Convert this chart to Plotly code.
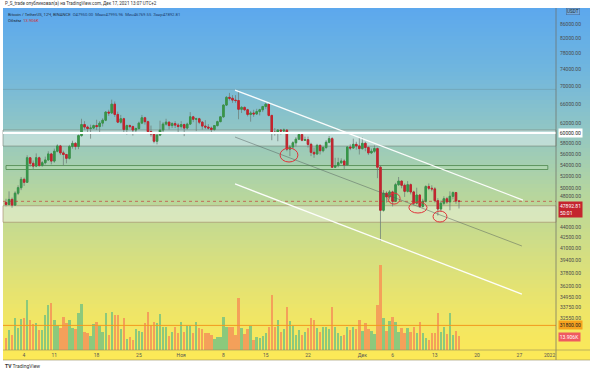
import math
import pandas as pd
import plotly.graph_objects as go

# ---------------- data (BTC/USDT 12h) ----------------
open_ = [47700, 47400, 48200, 47300, 49200, 50100, 51500, 51000, 55300, 54300,
         53800, 55300, 53900, 54400, 54900, 56000, 54700, 56500, 57500, 56200,
         55900, 55200, 57400, 58000, 57400, 59500, 61700, 61200, 60900, 61000,
         61500, 61300, 62000, 62600, 64300, 64100, 66000, 63800, 62200, 62900,
         60700, 61500, 61300, 60600, 60900, 62000, 63100, 62300, 60300, 59800,
         58400, 59600, 60600, 61800, 62200, 61500, 61900, 61600, 61300, 61700,
         61000, 61800, 63300, 62800, 62900, 62200, 61400, 61200, 61000, 60700,
         61500, 62300, 63300, 65800, 67500, 67300, 66900, 66800, 64900, 65300,
         64800, 63800, 64100, 63900, 64400, 64800, 65500, 66000, 63600, 60200,
         60100, 60600, 60400, 60600, 56900, 57300, 58100, 58800, 59700, 58600,
         58700, 57800, 56300, 56000, 57600, 56600, 57200, 58200, 58900, 53600,
         53900, 54400, 54700, 54000, 57300, 57100, 57800, 57500, 57000, 58000,
         57200, 56200, 56500, 57000, 53600, 46500, 49200, 48600, 49400, 47900,
         50600, 51200, 50500, 49500, 50600, 49400, 47600, 48900, 47100, 47900,
         50300, 50000, 49900, 48000, 46700, 47600, 48300, 47800, 48700, 49300,
         47950]
high = [48300, 49500, 48500, 49500, 50500, 51900, 51800, 55750, 55300, 54800,
        56100, 55500, 54700, 55500, 56500, 56200, 57000, 57800, 57700, 56600,
        56000, 57700, 58500, 58200, 59700, 62900, 62400, 61500, 61700, 61700,
        62700, 62400, 63000, 64500, 64800, 67000, 66600, 64400, 63700, 63100,
        61700, 61700, 61500, 61100, 62300, 63700, 63300, 62500, 61500, 60000,
        60200, 62500, 62200, 62900, 62300, 62200, 62400, 62000, 62400, 61900,
        62100, 64300, 63500, 63100, 63100, 62400, 62600, 61800, 61300, 61600,
        62500, 63300, 66000, 67800, 68500, 68000, 68000, 69000, 65600, 65500,
        65000, 64500, 64800, 65000, 65000, 65500, 66400, 66200, 63600, 61000,
        60800, 60800, 60900, 60700, 57700, 58400, 59200, 59800, 60000, 59300,
        59300, 58100, 57200, 57900, 57800, 57500, 58600, 59400, 59200, 55300,
        55300, 55200, 55000, 57400, 57800, 58900, 58300, 59200, 59100, 58300,
        57400, 57000, 57600, 57200, 53900, 49700, 49500, 49700, 49600, 50900,
        51900, 51300, 50800, 51200, 50800, 49600, 50100, 49000, 48300, 50500,
        50800, 50500, 50200, 48400, 48000, 48700, 48600, 49500, 49500, 49400,
        47995.96]
low = [47100, 47300, 46900, 47200, 48900, 49700, 50400, 50900, 53700, 53300,
       53600, 53700, 53700, 54100, 54800, 54100, 54400, 56300, 55800, 53900,
       54300, 55000, 57000, 56800, 56900, 59300, 60700, 60200, 58900, 60800,
       60600, 60000, 61300, 62400, 63500, 64000, 63300, 62000, 61900, 60000,
       59700, 60900, 59500, 60200, 60700, 61800, 61700, 59800, 59300, 58000,
       57800, 59400, 60200, 61500, 60700, 61000, 61000, 60000, 60900, 59400,
       60700, 61700, 62200, 60400, 61800, 60700, 60800, 60700, 60100, 60500,
       61300, 62200, 63100, 65600, 66800, 66300, 66300, 62800, 64100, 64500,
       63400, 62300, 63300, 63700, 63600, 64300, 65000, 63400, 58600, 59500,
       58400, 59700, 59900, 56500, 55600, 56900, 57400, 58600, 58400, 58500,
       57200, 55600, 55300, 55800, 55900, 56300, 56900, 58000, 53500, 53500,
       53600, 54200, 53300, 53900, 56700, 57000, 56800, 55900, 56800, 56500,
       55800, 56000, 56200, 51700, 42000, 46300, 47700, 48200, 47100, 47800,
       50400, 50000, 48600, 49300, 49000, 47300, 47400, 46900, 46900, 47700,
       49700, 49500, 47700, 45700, 46300, 47300, 47500, 46500, 48200, 47500,
       46769.55]
close = [47400, 48200, 47300, 49200, 50100, 51500, 51000, 55300, 54300, 53800,
         55300, 53900, 54400, 54900, 56000, 54700, 56500, 57500, 56200, 55900,
         55200, 57400, 58000, 57400, 59500, 61700, 61200, 60900, 61000, 61500,
         61300, 62000, 62600, 64300, 64100, 66000, 63800, 62200, 62900, 60700,
         61500, 61300, 60600, 60900, 62000, 63100, 62300, 60300, 59800, 58400,
         59600, 60600, 61800, 62200, 61500, 61900, 61600, 61300, 61700, 61000,
         61800, 63300, 62800, 62900, 62200, 61400, 61200, 61000, 60700, 61500,
         62300, 63300, 65800, 67500, 67300, 66900, 66800, 64900, 65300, 64800,
         63800, 64100, 63900, 64400, 64800, 65500, 66000, 63600, 60200, 60100,
         60600, 60400, 60600, 56900, 57300, 58100, 58800, 59700, 58600, 58700,
         57800, 56300, 56000, 57600, 56600, 57200, 58200, 58900, 53600, 53900,
         54400, 54700, 54000, 57300, 57100, 57800, 57500, 57000, 58000, 57200,
         56200, 56500, 57000, 53600, 46500, 49200, 48600, 49400, 47900, 50600,
         51200, 50500, 49500, 50600, 49400, 47600, 48900, 47100, 47900, 50300,
         50000, 49900, 48000, 46700, 47600, 48300, 47800, 48700, 49300, 47950,
         47892.81]
volume_k = [12, 20, 15, 32, 22, 31, 32, 50, 30, 26,
            27, 20, 20, 35, 45, 47, 30, 25, 22, 33,
            27, 30, 22, 21, 37, 46, 18, 17, 14, 26,
            28, 24, 18, 37, 15, 38, 35, 35, 21, 32,
            11, 13, 10, 21, 19, 18, 27, 38, 25, 28,
            27, 36, 23, 23, 14, 18, 23, 17, 28, 18,
            24, 24, 17, 28, 22, 21, 17, 17, 15, 11,
            13, 13, 33, 23, 23, 23, 15, 52, 22, 16,
            21, 24, 10, 13, 12, 14, 17, 23, 55, 23,
            30, 18, 21, 43, 29, 24, 15, 20, 15, 18,
            22, 32, 30, 22, 18, 23, 23, 21, 43, 23,
            17, 14, 15, 23, 20, 23, 21, 30, 19, 27,
            21, 19, 16, 45, 85, 32, 19, 29, 33, 28,
            18, 22, 17, 22, 18, 23, 17, 28, 17, 12,
            10, 17, 17, 37, 18, 23, 16, 37, 15, 19,
            13.906]

x_tick_dates = ["2021-10-05 23:00", "2021-10-11", "2021-10-18", "2021-10-25",
                "2021-11-01", "2021-11-08", "2021-11-15", "2021-11-22",
                "2021-12-01", "2021-12-06", "2021-12-13", "2021-12-20",
                "2021-12-27", "2022-01-01"]
x_tick_text = ["4", "11", "18", "25", "Ноя", "8", "15", "22", "Дек", "6",
               "13", "20", "27", "2022"]
price_ticks = [86000, 82000, 78000, 74000, 70000, 66000, 62000, 58000, 56000,
               54000, 52000, 50000, 44000, 42500, 41000, 39400, 37800,
               36200, 34950, 33750, 32550]
price_tick_text = [f"{v:.2f}" for v in price_ticks]

n = len(close)
assert len(open_) == n and len(high) == n and len(low) == n and len(volume_k) == n
dates = pd.date_range("2021-10-03 00:00", periods=n, freq="12h")

# ---------------- styling ----------------
GREEN = "#379649"
RED = "#c4242e"
WICK = "rgba(110,125,120,0.75)"
VOL_UP = "#8cc97c"
VOL_DN = "#f4a05a"
FONT = "Roboto"

W, H = 590, 372
ML, MR, MT, MB = 3, 34, 8, 22
PH = H - MT - MB  # plot height in px
PW = W - ML - MR


def py(ypix):
    return (H - MB - ypix) / PH


def px(xpix):
    return (xpix - ML) / PW


fig = go.Figure()

# wicks
fig.add_trace(go.Candlestick(
    x=dates, open=open_, high=high, low=low, close=close,
    increasing=dict(line=dict(color=WICK, width=1), fillcolor=WICK),
    decreasing=dict(line=dict(color=WICK, width=1), fillcolor=WICK),
    whiskerwidth=0, hoverinfo="skip", showlegend=False))
# bodies
body_hi = [max(o, c) for o, c in zip(open_, close)]
body_lo = [min(o, c) for o, c in zip(open_, close)]
fig.add_trace(go.Candlestick(
    x=dates, open=open_, high=body_hi, low=body_lo, close=close,
    increasing=dict(line=dict(color=GREEN, width=1), fillcolor=GREEN),
    decreasing=dict(line=dict(color=RED, width=1), fillcolor=RED),
    whiskerwidth=0, hoverinfo="skip", showlegend=False))

vol_colors = [VOL_UP if c >= o else VOL_DN for o, c in zip(open_, close)]
fig.add_trace(go.Bar(
    x=dates, y=volume_k, yaxis="y2", marker=dict(color=vol_colors, line=dict(width=0)),
    width=12 * 3600 * 1000 * 0.78, hoverinfo="skip", showlegend=False))

shapes = []
# gradient background (plot + axes strip)
stops = [(8, (92, 168, 238)), (70, (112, 182, 222)), (130, (145, 198, 196)),
         (190, (180, 213, 160)), (250, (210, 222, 132)), (310, (238, 229, 104)),
         (360, (253, 233, 86))]


def grad(y):
    for (y0, c0), (y1, c1) in zip(stops[:-1], stops[1:]):
        if y0 <= y <= y1:
            t = (y - y0) / (y1 - y0)
            return tuple(round(a + (b - a) * t) for a, b in zip(c0, c1))
    return stops[-1][1]


step = 4
for y in range(8, 360, step):
    c = grad(y + step / 2)
    shapes.append(dict(type="rect", xref="paper", yref="paper",
                       x0=px(3), x1=px(590), y0=py(y + step), y1=py(y),
                       fillcolor=f"rgb{c}", line=dict(width=0), layer="below"))

# zones
shapes += [
    dict(type="rect", xref="paper", yref="y", x0=0, x1=1, y0=57480, y1=60600,
         fillcolor="rgba(255,255,255,0.38)", line=dict(color="rgba(110,120,110,0.55)", width=1), layer="below"),
    dict(type="line", xref="paper", yref="y", x0=0, x1=1, y0=60000, y1=60000,
         line=dict(color="white", width=2)),
    dict(type="rect", xref="x", yref="y", x0="2021-10-03 00:00", x1="2021-12-31 17:00",
         y0=53200, y1=53900, fillcolor="rgba(190,225,180,0.35)",
         line=dict(color="rgba(70,130,70,0.75)", width=1), layer="below"),
    dict(type="rect", xref="paper", yref="y", x0=0, x1=1, y0=44700, y1=47200,
         fillcolor="rgba(255,255,255,0.38)", line=dict(color="rgba(160,130,100,0.6)", width=1), layer="below"),
    dict(type="line", xref="paper", yref="y", x0=0, x1=1, y0=69300, y1=69300,
         line=dict(color="rgba(90,110,120,0.25)", width=1)),
    dict(type="line", xref="paper", yref="y", x0=0, x1=1, y0=31800, y1=31800,
         line=dict(color="#f29a1f", width=1)),
    dict(type="line", xref="paper", yref="y", x0=0, x1=1, y0=close[-1], y1=close[-1],
         line=dict(color="rgba(196,36,46,0.6)", width=1, dash="dot")),
    # channel
    dict(type="line", xref="x", yref="y", x0="2021-11-09 22:00", y0=69150,
         x1="2021-12-27 14:00", y1=48100, line=dict(color="rgba(255,255,255,0.95)", width=1.3)),
    dict(type="line", xref="x", yref="y", x0="2021-11-09 22:00", y0=50720,
         x1="2021-12-27 10:00", y1=35270, line=dict(color="rgba(255,255,255,0.95)", width=1.3)),
    dict(type="line", xref="x", yref="y", x0="2021-11-09 22:00", y0=59210,
         x1="2021-12-27 10:00", y1=41330, line=dict(color="rgba(80,90,90,0.6)", width=0.8)),
]
for x0, x1, y0, y1 in [("2021-11-17 09:00", "2021-11-20 08:00", 54530, 57100),
                       ("2021-12-05 06:00", "2021-12-07 06:00", 47460, 49220),
                       ("2021-12-08 17:00", "2021-12-11 17:00", 46080, 47780),
                       ("2021-12-12 17:00", "2021-12-15 00:00", 44730, 46380)]:
    shapes.append(dict(type="circle", xref="x", yref="y", x0=x0, x1=x1, y0=y0, y1=y1,
                       line=dict(color="#e0333a", width=1)))
# axis separators
shapes += [
    dict(type="line", xref="paper", yref="paper", x0=1, x1=1, y0=py(360), y1=1,
         line=dict(color="rgba(110,110,100,0.7)", width=1)),
    dict(type="line", xref="paper", yref="paper", x0=0, x1=px(590), y0=py(350), y1=py(350),
         line=dict(color="rgba(150,140,90,0.6)", width=1)),
    dict(type="line", xref="paper", yref="paper", x0=0, x1=px(590), y0=py(360), y1=py(360),
         line=dict(color="rgba(150,140,90,0.6)", width=1)),
]

ann = []
# header texts
ann.append(dict(xref="paper", yref="paper", x=px(3), y=py(3.5), xanchor="left", yanchor="middle",
                text="P_S_trade опубликовал(а) на TradingView.com, Дек 17, 2021 13:07 UTC+2",
                showarrow=False, font=dict(size=4.5, color="#333", family=FONT)))
ann.append(dict(xref="paper", yref="paper", x=px(6), y=py(14), xanchor="left", yanchor="middle",
                text="Bitcoin / TetherUS, 12Ч, BINANCE  <span style='color:#1d3d6b'>О47950.00  Макс47995.96  Мин46769.55  Закр47892.81</span>",
                showarrow=False, font=dict(size=4.2, color="#1f2d3d", family=FONT)))
ann.append(dict(xref="paper", yref="paper", x=px(6), y=py(21), xanchor="left", yanchor="middle",
                text="Объём  <span style='color:#d32f2f'>13.906K</span>",
                showarrow=False, font=dict(size=4.2, color="#1f2d3d", family=FONT)))
ann.append(dict(xref="paper", yref="paper", x=px(3), y=py(366), xanchor="left", yanchor="middle",
                text="<b>TV</b> TradingView", showarrow=False,
                font=dict(size=5, color="#333", family=FONT)))
# price scale boxes
box_x = px(558)
ann.append(dict(xref="paper", yref="paper", x=px(573), y=py(11), xanchor="center", yanchor="middle",
                text="USDT", showarrow=False, bgcolor="rgba(120,170,220,0.9)",
                bordercolor="rgba(60,90,130,0.7)", borderwidth=0.6, borderpad=0.5,
                font=dict(size=4.6, color="#233", family=FONT)))
ann.append(dict(xref="paper", yref="y", x=box_x, y=math.log10(60000), xanchor="left", yanchor="middle",
                text="60000.00", showarrow=False, bgcolor="white", borderpad=0.8,
                font=dict(size=5, color="#222", family=FONT)))
ann.append(dict(xref="paper", yref="paper", x=box_x, y=py(196), xanchor="left", yanchor="middle",
                text="48000.00", showarrow=False,
                font=dict(size=5, color="#4a4a4a", family=FONT)))
ann.append(dict(xref="paper", yref="paper", x=box_x, y=py(201), xanchor="left", yanchor="top",
                text="47892.81<br>50:01", showarrow=False, bgcolor=RED, borderpad=1,
                align="left", font=dict(size=5, color="white", family=FONT)))
ann.append(dict(xref="paper", yref="y", x=box_x, y=math.log10(31800), xanchor="left", yanchor="middle",
                text="31800.00", showarrow=False, bgcolor="#f6a21e", borderpad=0.8,
                font=dict(size=5, color="#222", family=FONT)))
ann.append(dict(xref="paper", yref="paper", x=box_x, y=py(337), xanchor="left", yanchor="middle",
                text="13.906K", showarrow=False, bgcolor="#ef5a60", borderpad=0.8,
                font=dict(size=5, color="white", family=FONT)))

bottom_p, top_p = 29320, 90660
fig.update_layout(
    width=W, height=H, margin=dict(l=ML, r=MR, t=MT, b=MB),
    paper_bgcolor="white", plot_bgcolor="rgba(0,0,0,0)",
    showlegend=False, bargap=0, shapes=shapes, annotations=ann,
    xaxis=dict(type="date", range=["2021-10-02 12:00", "2022-01-02 01:30"],
               tickvals=x_tick_dates, ticktext=x_tick_text, tickangle=0,
               tickfont=dict(size=5, color="#555", family=FONT),
               showgrid=False, zeroline=False, rangeslider=dict(visible=False),
               ticks="", ticklabelstandoff=1, fixedrange=True),
    yaxis=dict(type="log", side="right", range=[math.log10(bottom_p), math.log10(top_p)],
               tickvals=price_ticks, ticktext=price_tick_text,
               tickfont=dict(size=5, color="#4a4a4a", family=FONT),
               showgrid=False, zeroline=False, ticks="", ticklabelstandoff=3),
    yaxis2=dict(overlaying="y", range=[0, PH], visible=False, fixedrange=True),
)

fig.write_html("out.html", config={"displayModeBar": False, "staticPlot": True},
               post_script="document.body.style.margin='0';document.body.style.overflow='hidden';")
